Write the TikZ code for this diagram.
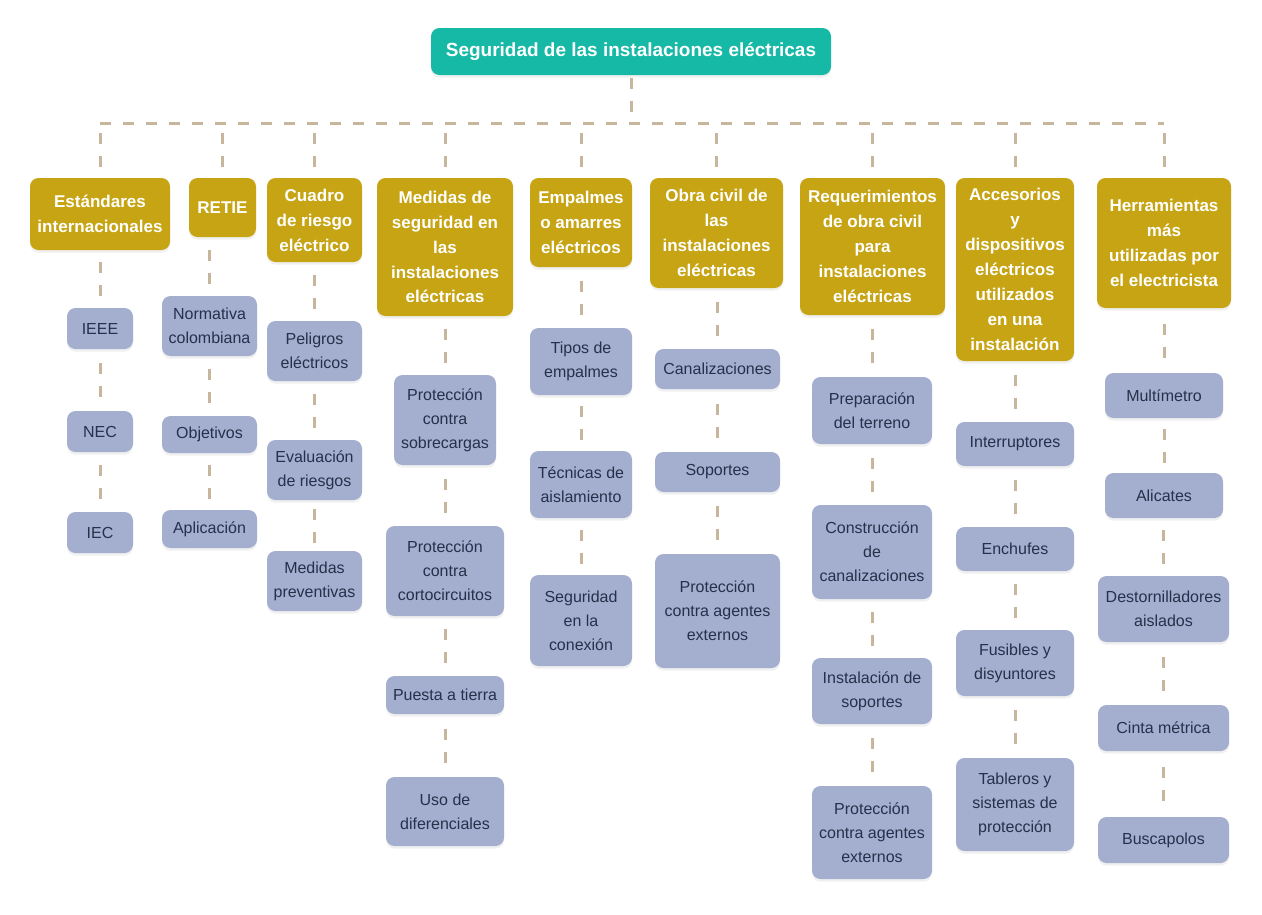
\documentclass[tikz,border=0pt]{standalone}
\usepackage{fontspec}
\setmainfont{Liberation Sans}
\usepackage{tikz}
\usetikzlibrary{shadows,calc}

\definecolor{tealhead}{HTML}{16B8A6}
\definecolor{goldcat}{HTML}{C6A413}
\definecolor{slatebox}{HTML}{A4AFD0}
\definecolor{slatetext}{HTML}{25304A}
\definecolor{tanline}{HTML}{C8B69C}

\tikzset{
  sz/.style 2 args={minimum width=#1*0.02cm, minimum height=#2*0.02cm},
  box/.style={rounded corners=0.17cm, inner sep=0pt, align=center,
    drop shadow={opacity=0.12, shadow xshift=0pt, shadow yshift=-1.5pt}},
  root/.style={box, fill=tealhead, text=white,
    font=\bfseries\fontsize{10.8}{13}\selectfont},
  cat/.style={box, fill=goldcat, text=white,
    font=\bfseries\fontsize{9.7}{14.2}\selectfont},
  kid/.style={box, fill=slatebox, text=slatetext,
    font=\fontsize{9.1}{13.6}\selectfont},
  link/.style={draw=tanline, line width=0.06cm, dash pattern=on 0.22cm off 0.24cm}
}

\begin{document}
\begin{tikzpicture}[x=0.02cm,y=-0.02cm]
  \useasboundingbox (0,0) rectangle (1262,914);

  % main topic
  \node[root, sz={400}{47}] (top) at (631,51.5) {Seguridad de las instalaciones eléctricas};
  \coordinate (bus) at (631,123);

  % categories
  \node[cat, sz={140}{72}]  (h_1) at (100,214)    {Estándares\\internacionales};
  \node[cat, sz={67}{59}]   (h_2) at (222.5,207.5) {RETIE};
  \node[cat, sz={95}{84}]   (h_3) at (314.5,220)  {Cuadro\\de riesgo\\eléctrico};
  \node[cat, sz={136}{138}] (h_4) at (445,247)    {Medidas de\\seguridad en\\las\\instalaciones\\eléctricas};
  \node[cat, sz={102}{89}]  (h_5) at (581,222.5)  {Empalmes\\o amarres\\eléctricos};
  \node[cat, sz={133}{110}] (h_6) at (716.5,233)  {Obra civil de\\las\\instalaciones\\eléctricas};
  \node[cat, sz={145}{137}] (h_7) at (872.5,246.5) {Requerimientos\\de obra civil\\para\\instalaciones\\eléctricas};
  \node[cat, sz={118}{183}] (h_8) at (1015,269.5) {Accesorios\\y\\dispositivos\\eléctricos\\utilizados\\en una\\instalación};
  \node[cat, sz={134}{130}] (h_9) at (1164,243)   {Herramientas\\más\\utilizadas por\\el electricista};

  % subtopics
  \node[kid, sz={66}{41}] (k_1a) at (100,328.5) {IEEE};
  \node[kid, sz={66}{41}] (k_1b) at (100,431.5) {NEC};
  \node[kid, sz={66}{41}] (k_1c) at (100,532.5) {IEC};

  \node[kid, sz={95}{60}] (k_2a) at (209.5,326)   {Normativa\\colombiana};
  \node[kid, sz={95}{37}] (k_2b) at (209.5,434.5) {Objetivos};
  \node[kid, sz={95}{38}] (k_2c) at (209.5,529)   {Aplicación};

  \node[kid, sz={95}{60}] (k_3a) at (314.5,351) {Peligros\\eléctricos};
  \node[kid, sz={95}{60}] (k_3b) at (314.5,470) {Evaluación\\de riesgos};
  \node[kid, sz={95}{60}] (k_3c) at (314.5,581) {Medidas\\preventivas};

  \node[kid, sz={102}{90}] (k_4a) at (445,420)   {Protección\\contra\\sobrecargas};
  \node[kid, sz={118}{90}] (k_4b) at (445,571)   {Protección\\contra\\cortocircuitos};
  \node[kid, sz={118}{38}] (k_4c) at (445,695)   {Puesta a tierra};
  \node[kid, sz={118}{69}] (k_4d) at (445,811.5) {Uso de\\diferenciales};

  \node[kid, sz={102}{67}] (k_5a) at (581,361.5) {Tipos de\\empalmes};
  \node[kid, sz={102}{67}] (k_5b) at (581,484.5) {Técnicas de\\aislamiento};
  \node[kid, sz={102}{91}] (k_5c) at (581,620.5) {Seguridad\\en la\\conexión};

  \node[kid, sz={125}{40}]  (k_6a) at (717.5,369) {Canalizaciones};
  \node[kid, sz={125}{40}]  (k_6b) at (717.5,472) {Soportes};
  \node[kid, sz={125}{114}] (k_6c) at (717.5,611) {Protección\\contra agentes\\externos};

  \node[kid, sz={120}{67}] (k_7a) at (872,410.5) {Preparación\\del terreno};
  \node[kid, sz={120}{94}] (k_7b) at (872,552)   {Construcción\\de\\canalizaciones};
  \node[kid, sz={120}{66}] (k_7c) at (872,691)   {Instalación de\\soportes};
  \node[kid, sz={120}{93}] (k_7d) at (872,832.5) {Protección\\contra agentes\\externos};

  \node[kid, sz={118}{44}] (k_8a) at (1015,444)   {Interruptores};
  \node[kid, sz={118}{44}] (k_8b) at (1015,549)   {Enchufes};
  \node[kid, sz={118}{66}] (k_8c) at (1015,663)   {Fusibles y\\disyuntores};
  \node[kid, sz={118}{93}] (k_8d) at (1015,804.5) {Tableros y\\sistemas de\\protección};

  \node[kid, sz={118}{45}] (k_9a) at (1164,395.5)   {Multímetro};
  \node[kid, sz={118}{45}] (k_9b) at (1164,495.5)   {Alicates};
  \node[kid, sz={131}{66}] (k_9c) at (1163.5,609)   {Destornilladores\\aislados};
  \node[kid, sz={131}{46}] (k_9d) at (1163.5,728)   {Cinta métrica};
  \node[kid, sz={131}{46}] (k_9e) at (1163.5,840)   {Buscapolos};

  % connectors (two dashes, centred in each gap)
  \draw[link, shorten <=0.06cm] (top.south) -- (bus);
  \draw[link] (bus -| h_1.north) -- (bus -| h_9.north);
  \foreach \h in {h_1,h_2,h_3,h_4,h_5,h_6,h_7,h_8,h_9}
    \draw[link] ($(bus -| \h.north)!.5!(\h.north)$) ++(0,-17) -- ++(0,34);
  \foreach \a/\b in {h_1/k_1a,k_1a/k_1b,k_1b/k_1c,
                     h_2/k_2a,k_2a/k_2b,k_2b/k_2c,
                     h_3/k_3a,k_3a/k_3b,k_3b/k_3c,
                     h_4/k_4a,k_4a/k_4b,k_4b/k_4c,k_4c/k_4d,
                     h_5/k_5a,k_5a/k_5b,k_5b/k_5c,
                     h_6/k_6a,k_6a/k_6b,k_6b/k_6c,
                     h_7/k_7a,k_7a/k_7b,k_7b/k_7c,k_7c/k_7d,
                     h_8/k_8a,k_8a/k_8b,k_8b/k_8c,k_8c/k_8d,
                     h_9/k_9a,k_9a/k_9b,k_9b/k_9c,k_9c/k_9d,k_9d/k_9e}
    \draw[link] ($(\a.south -| \b.north)!.5!(\b.north)$) ++(0,-17) -- ++(0,34);
\end{tikzpicture}
\end{document}
